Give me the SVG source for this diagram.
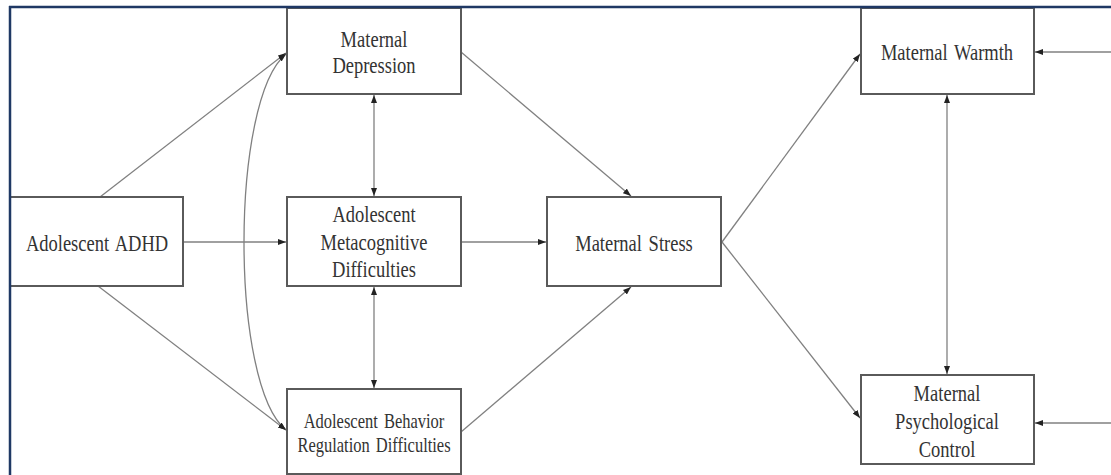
<svg xmlns="http://www.w3.org/2000/svg" width="1111" height="475" viewBox="0 0 1111 475">
<defs>
<style>
.box{fill:#fff;stroke:#5a5a5a;stroke-width:2}
.c{fill:none;stroke:#808080;stroke-width:1.3}
.t{font-family:"Liberation Serif","Times New Roman",serif;font-size:18.5px;fill:#333;text-anchor:middle;word-spacing:2px}
.s{font-size:16.5px}
</style>
<marker id="ah" viewBox="0 0 8 6" refX="8" refY="3" markerWidth="8" markerHeight="6" markerUnits="userSpaceOnUse" orient="auto-start-reverse">
<path d="M0,0 L8,3 L0,6 z" fill="#222"/>
</marker>
</defs>
<rect x="0" y="0" width="1111" height="475" fill="#fff"/>

<g id="connectors">
<line class="c" x1="100" y1="197" x2="286" y2="53" marker-end="url(#ah)"/>
<line class="c" x1="98" y1="286" x2="286" y2="430" marker-end="url(#ah)"/>
<line class="c" x1="183" y1="242" x2="286" y2="242" marker-end="url(#ah)"/>
<path class="c" d="M286,54 C230,100 230,385 286,430" marker-start="url(#ah)" marker-end="url(#ah)"/>
<line class="c" x1="374" y1="95" x2="374" y2="196" marker-start="url(#ah)" marker-end="url(#ah)"/>
<line class="c" x1="374" y1="287" x2="374" y2="388" marker-start="url(#ah)" marker-end="url(#ah)"/>
<line class="c" x1="461" y1="52" x2="631" y2="196" marker-end="url(#ah)"/>
<line class="c" x1="461" y1="242" x2="546" y2="242" marker-end="url(#ah)"/>
<line class="c" x1="461" y1="432" x2="631" y2="287" marker-end="url(#ah)"/>
<line class="c" x1="722" y1="242" x2="860" y2="54" marker-end="url(#ah)"/>
<line class="c" x1="722" y1="242" x2="860" y2="418" marker-end="url(#ah)"/>
<line class="c" x1="947" y1="95" x2="947" y2="374" marker-start="url(#ah)" marker-end="url(#ah)"/>
<line class="c" x1="1111" y1="52" x2="1035" y2="52" marker-end="url(#ah)"/>
<line class="c" x1="1111" y1="423" x2="1035" y2="423" marker-end="url(#ah)"/>
</g>

<g id="adhd">
<rect class="box" x="10" y="197" width="173" height="89"/>
<text class="t" transform="translate(97,251) scale(1,1.25)">Adolescent ADHD</text>
</g>
<g id="depression">
<rect class="box" x="287" y="8" width="174" height="86"/>
<text class="t" transform="translate(374,47) scale(1,1.25)">Maternal</text>
<text class="t" transform="translate(374,73) scale(1,1.25)">Depression</text>
</g>
<g id="metacognitive">
<rect class="box" x="287" y="197" width="174" height="89"/>
<text class="t" transform="translate(374,222) scale(1,1.25)">Adolescent</text>
<text class="t" transform="translate(374,250) scale(1,1.25)">Metacognitive</text>
<text class="t" transform="translate(374,277) scale(1,1.25)">Difficulties</text>
</g>
<g id="behavior">
<rect class="box" x="287" y="389" width="174" height="85"/>
<text class="t s" transform="translate(374,428) scale(1,1.25)">Adolescent Behavior</text>
<text class="t s" transform="translate(374,452) scale(1,1.25)">Regulation Difficulties</text>
</g>
<g id="stress">
<rect class="box" x="547" y="197" width="174" height="89"/>
<text class="t" transform="translate(634,251) scale(1,1.25)">Maternal Stress</text>
</g>
<g id="warmth">
<rect class="box" x="861" y="8" width="173" height="86"/>
<text class="t" transform="translate(947,60) scale(1,1.25)">Maternal Warmth</text>
</g>
<g id="psychcontrol">
<rect class="box" x="861" y="375" width="173" height="89"/>
<text class="t" transform="translate(947,401) scale(1,1.25)">Maternal</text>
<text class="t" transform="translate(947,429) scale(1,1.25)">Psychological</text>
<text class="t" transform="translate(947,457) scale(1,1.25)">Control</text>
</g>

<g id="frame">
<line x1="9" y1="7" x2="1111" y2="7" stroke="#1f3864" stroke-width="2.5"/>
<line x1="10" y1="6" x2="10" y2="475" stroke="#1f3864" stroke-width="2.5"/>
</g>
</svg>
